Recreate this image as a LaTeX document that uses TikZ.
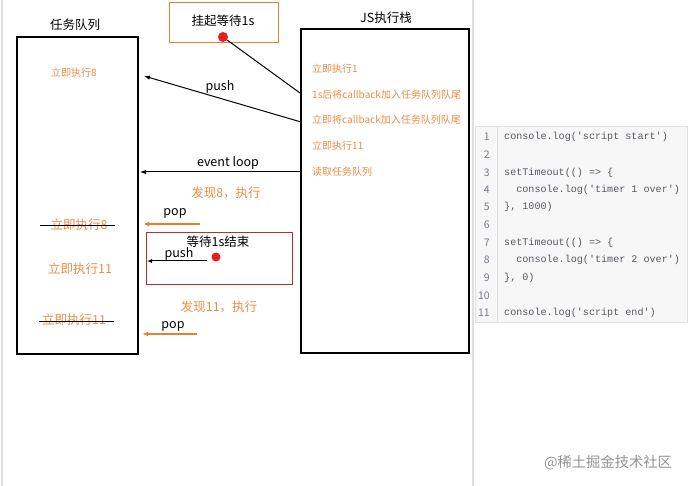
\documentclass[tikz,border=0pt]{standalone}
\usepackage{fontspec}
\setmainfont{Noto Sans CJK SC}
\setmonofont{Liberation Mono}
\usetikzlibrary{arrows.meta}
\definecolor{orng}{RGB}{237,125,49}
\definecolor{otxt}{RGB}{238,140,70}
\definecolor{rbox}{RGB}{200,40,40}
\definecolor{rdot}{RGB}{230,30,30}
\definecolor{codebg}{RGB}{247,247,248}
\definecolor{codebd}{RGB}{222,224,228}
\definecolor{codetx}{RGB}{85,89,95}
\definecolor{lnum}{RGB}{120,124,140}
\tikzset{
  box/.style={draw=black,line width=1.4pt},
  ttl/.style={font=\fontsize{12.5}{14}\selectfont,text=black},
  small/.style={font=\fontsize{10}{11}\selectfont,text=otxt,anchor=west,inner sep=0pt},
  big/.style={font=\fontsize{12.5}{14}\selectfont,text=otxt,inner sep=0pt},
  lbl/.style={font=\fontsize{12.5}{14}\selectfont,text=black,inner sep=0pt},
  arr/.style={-{Latex[length=6pt,width=4.5pt]},line width=1pt},
  oarr/.style={-{Latex[length=6pt,width=4.5pt]},line width=1.4pt,draw=orng},
  dot/.style={circle,fill=rdot,inner sep=0pt,minimum size=10pt},
  code/.style={font=\ttfamily\fontsize{10.1}{12}\selectfont,text=codetx,anchor=west,inner sep=0pt},
  num/.style={font=\fontsize{10.5}{12}\selectfont,text=lnum,anchor=east,inner sep=0pt},
}
\begin{document}
\begin{tikzpicture}[x=1pt,y=-1pt]
\useasboundingbox[fill=white] (0,0) rectangle (688,486);
% faint frame lines
\draw[draw=black!12,line width=2pt] (2,0) -- (2,486);
\draw[draw=black!12,line width=1.5pt] (473,0) -- (473,486);
% code panel
\node[draw=codebd,fill=codebg,line width=1pt,minimum width=212pt,minimum height=196pt,inner sep=0pt] (codep) at (581.5,225) {};
\draw[draw=codebd,line width=0.8pt] (497,127) -- (497,323);
\foreach \n/\y/\t in {1/137/{console.log('script start')},2/155/{},3/173/{setTimeout(() => \{},4/190/{\ \ console.log('timer 1 over')},5/207/{\}, 1000)},6/225/{},7/243/{setTimeout(() => \{},8/260/{\ \ console.log('timer 2 over')},9/278/{\}, 0)},10/296/{},11/313/{console.log('script end')}}{
  \node[num] (ln\n) at (490,\y) {\n};
  \node[code] (cl\n) at (504,\y) {\t};
}
% titles
\node[ttl] (tq) at (75,25) {任务队列};
\node[ttl] (js) at (386,18) {JS执行栈};
% boxes
\node[box,minimum width=121pt,minimum height=317pt,inner sep=0pt] (queue) at (77.5,195.5) {};
\node[box,minimum width=168pt,minimum height=324pt,inner sep=0pt] (stack) at (385,191) {};
% hang box
\node[draw=orng,line width=1pt,minimum width=109pt,minimum height=40pt,inner sep=0pt] (hang) at (223.5,23) {};
\node[lbl] (hangt) at (223,21) {挂起等待1s};
\node[dot] (d1) at (223,37) {};
% stack texts
\node[small] (s1) at (312,69) {立即执行1};
\node[small] (s2) at (312,95) {1s后将callback加入任务队列队尾};
\node[small] (s3) at (312,120) {立即将callback加入任务队列队尾};
\node[small] (s4) at (312,146) {立即执行11};
\node[small] (s5) at (312,172) {读取任务队列};
% queue text
\node[small,anchor=center] (q1) at (74,73) {立即执行8};
% connectors
\coordinate (c1) at (300,93);
\draw[line width=1pt] (d1) -- (c1);
\coordinate (p1s) at (301,122);
\coordinate (p1e) at (144,76);
\draw[arr] (p1s) -- (p1e);
\node[lbl] (pushl) at (220,87) {push};
\coordinate (e1s) at (301,172);
\coordinate (e1e) at (140,172);
\draw[arr] (e1s) -- (e1e);
\node[lbl] (evl) at (228,163) {event loop};
% pop 8
\node[big] (f8) at (226,193) {发现8，执行};
\node[lbl] (pop1) at (175,213) {pop};
\coordinate (o1s) at (200,224);
\coordinate (o1e) at (143,224);
\draw[oarr] (o1s) -- (o1e);
\node[big] (x8) at (79,225) {立即执行8};
\draw[line width=0.9pt] (40,225) -- (115,225);
% red box
\node[draw=rbox,line width=1pt,minimum width=146pt,minimum height=52pt,inner sep=0pt] (rb) at (219,259) {};
\node[lbl] (w1) at (218,242) {等待1s结束};
\node[dot,minimum size=9pt] (d2) at (216,257) {};
\node[lbl] (push2) at (179,254) {push};
\coordinate (p2s) at (207,261);
\coordinate (p2e) at (147,261);
\draw[-{Latex[length=5pt,width=4pt]},line width=1pt] (p2s) -- (p2e);
\node[big] (q11) at (80,269) {立即执行11};
% pop 11
\node[big] (f11) at (219,307) {发现11，执行};
\node[lbl] (pop2) at (173,326) {pop};
\coordinate (o2s) at (197,334);
\coordinate (o2e) at (142,334);
\draw[oarr] (o2s) -- (o2e);
\node[big] (x11) at (74,320) {立即执行11};
\draw[line width=0.9pt] (39,321) -- (114,321);
% watermark
\node[font=\fontsize{14.3}{16}\selectfont,text=black!42,inner sep=0pt] (wm) at (608,463) {@稀土掘金技术社区};
\end{tikzpicture}
\end{document}
